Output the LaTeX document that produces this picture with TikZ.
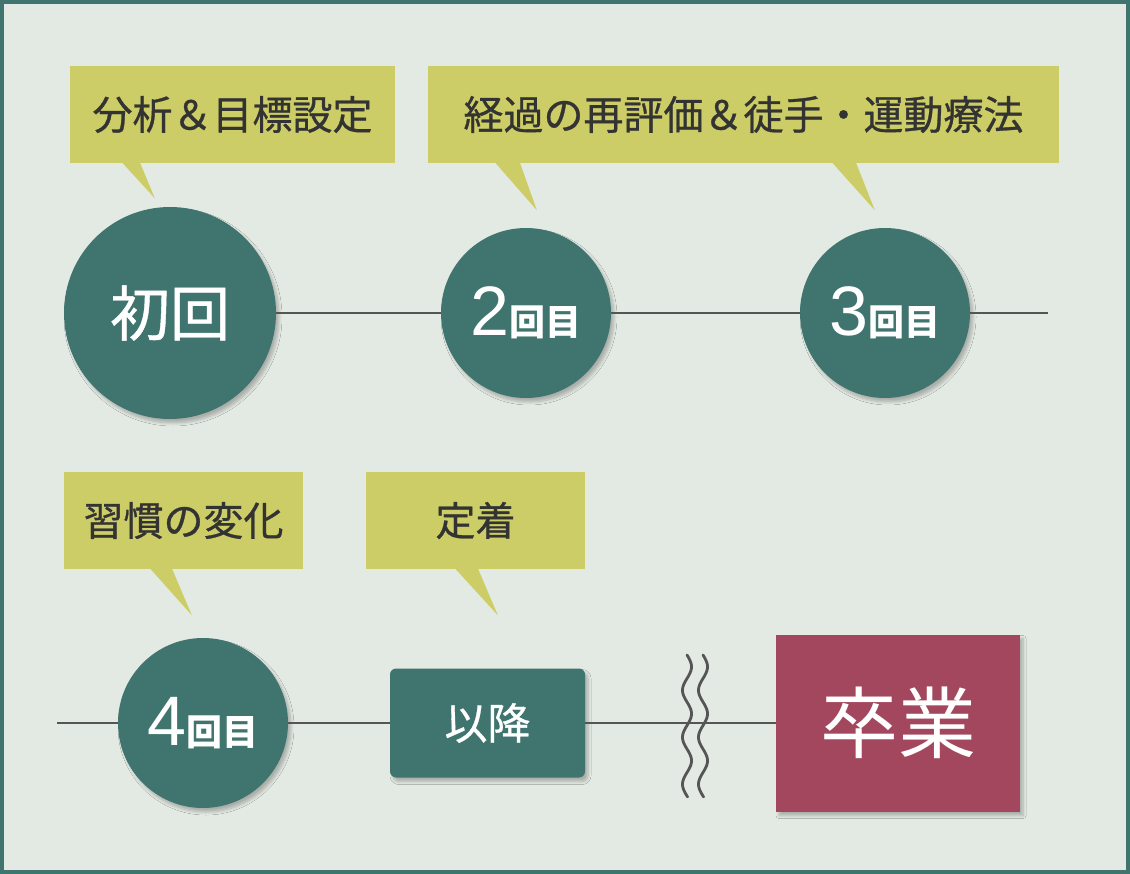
\documentclass[tikz,border=0pt]{standalone}
\usepackage{fontspec}
\setmainfont{Noto Sans CJK JP}
\newfontfamily\med[FakeBold=0.7]{Noto Sans CJK JP}
\newfontfamily\digit{Liberation Sans}
\usetikzlibrary{shadows.blur}
\definecolor{bgc}{RGB}{227,233,227}
\definecolor{tealc}{RGB}{64,117,111}
\definecolor{olivec}{RGB}{204,205,102}
\definecolor{winec}{RGB}{163,71,94}
\definecolor{linec}{RGB}{85,85,85}
\definecolor{txtc}{RGB}{51,51,51}
\newcommand{\fs}[1]{\fontsize{#1}{#1}\selectfont}
\newcommand{\nth}[1]{{\digit\fs{70}#1}{\bfseries\fs{36}回目}}
\begin{document}
\begin{tikzpicture}[x=1pt,y=-1pt,
  shd/.style={blur shadow={shadow xshift=3pt,shadow yshift=-4pt,shadow opacity=25,shadow blur radius=3pt,shadow blur steps=6}},
  circ/.style={circle,fill=tealc,text=white,inner sep=0pt,shd},
  callout/.style={rectangle,fill=olivec,text=txtc,inner sep=0pt,font=\med\fs{40}},
  conn/.style={draw=linec,line width=2.6pt},
  wave/.style={draw=linec,line width=2.8pt,line cap=round}]
\useasboundingbox (0,0) rectangle (1130,874);
\fill[tealc] (0,0) rectangle (1130,874);
\fill[bgc] (4,4) rectangle (1126,870);

% callouts
\node[callout,minimum width=325pt,minimum height=97pt] (k1) at (232.5,114.5) {分析＆目標設定};
\fill[olivec] ([xshift=52pt,yshift=1pt]k1.south west) -- ++(33,36) -- ([xshift=70pt,yshift=1pt]k1.south west) -- cycle;
\node[callout,minimum width=631pt,minimum height=97pt] (k2) at (743.5,114.5) {経過の再評価＆徒手・運動療法};
\fill[olivec] ([xshift=67pt,yshift=1pt]k2.south west) -- ++(42,48) -- ([xshift=92pt,yshift=1pt]k2.south west) -- cycle;
\fill[olivec] ([xshift=404pt,yshift=1pt]k2.south west) -- ++(43,48) -- ([xshift=428pt,yshift=1pt]k2.south west) -- cycle;
\node[callout,minimum width=239pt,minimum height=97pt] (k3) at (183.5,520.5) {習慣の変化};
\fill[olivec] ([xshift=86pt,yshift=1pt]k3.south west) -- ++(42,47) -- ([xshift=108pt,yshift=1pt]k3.south west) -- cycle;
\node[callout,minimum width=219pt,minimum height=97pt] (k4) at (475.5,520.5) {定着};
\fill[olivec] ([xshift=89pt,yshift=1pt]k4.south west) -- ++(43,47) -- ([xshift=112pt,yshift=1pt]k4.south west) -- cycle;

% top row
\node[circ,minimum size=212pt,font=\med\fs{60}] (c1) at (170,313) {初回};
\node[circ,minimum size=170pt] (c2) at (526,313) {\nth{2}};
\node[circ,minimum size=170pt] (c3) at (885,313) {\nth{3}};
\coordinate (e1) at (1048,313);
\draw[conn] (c1.east) -- (c2.west);
\draw[conn] (c2.east) -- (c3.west);
\draw[conn] (c3.east) -- (e1);

% bottom row
\coordinate (s2) at (57,723);
\node[circ,minimum size=170pt] (c4) at (203,723) {\nth{4}};
\node[rectangle,rounded corners=6pt,fill=tealc,text=white,minimum width=195pt,minimum height=109pt,inner sep=0pt,font=\med\fs{43},shd] (r5) at (487.5,723) {以降};
\node[rectangle,fill=winec,text=white,minimum width=244pt,minimum height=177pt,inner sep=0pt,font=\fs{78},shd] (g6) at (898,723) {卒業};
\draw[conn] (s2) -- (c4.west);
\draw[conn] (c4.east) -- (r5.west);
\draw[conn] (r5.east) -- (g6.west);

% break marks
\draw[wave] plot[domain=0:142,samples=120,smooth] ({687+4.5*sin(\x*7.66)},{655+\x});
\draw[wave] plot[domain=0:142,samples=120,smooth] ({703+4.5*sin(\x*7.66)},{655+\x});
\end{tikzpicture}
\end{document}
